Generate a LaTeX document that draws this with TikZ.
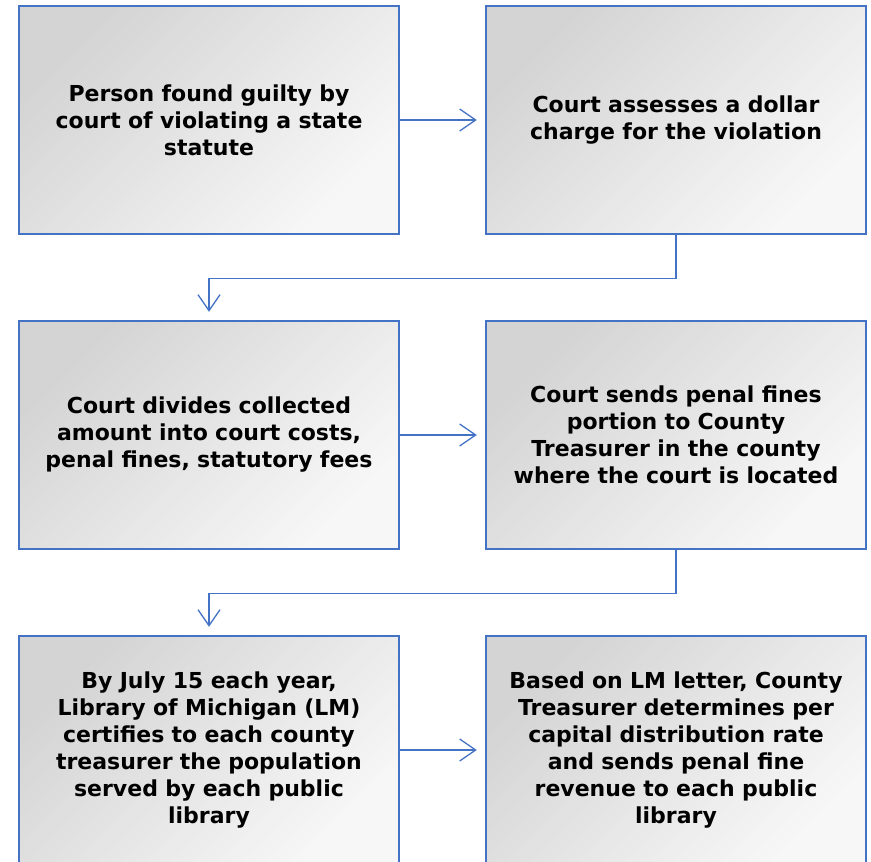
\documentclass[tikz,border=0pt]{standalone}
\usepackage{fontspec}
\setmainfont{DejaVu Sans}
\usetikzlibrary{arrows.meta}
\definecolor{boxblue}{HTML}{4472C4}
\begin{document}
\begin{tikzpicture}[x=1pt, y=-1pt,
  stepbox/.style={draw=boxblue, line width=2.4pt, minimum width=380pt, minimum height=228pt,
    top color=gray!34, bottom color=gray!6, shading angle=45, inner sep=0pt,
    text width=370pt, align=center, font=\bfseries\fontsize{22}{27}\selectfont},
  link/.style={draw=boxblue, line width=1.3pt, shorten >=8pt,
    -{Straight Barb[length=16pt, width=22pt, line width=1.3pt]}}]
  \useasboundingbox (0,0) rectangle (871,862);
  \clip (0,0) rectangle (871,862);
  % row 1
  \node[stepbox] (guilty) at (209,120) {Person found guilty by\\court of violating a state\\statute};
  \node[stepbox] (assess) at (676,120) {Court assesses a dollar\\charge for the violation};
  % row 2
  \node[stepbox] (divide) at (209,435) {Court divides collected\\amount into court costs,\\penal fines, statutory fees};
  \node[stepbox] (send) at (676,435) {Court sends penal fines\\portion to County\\Treasurer in the county\\where the court is located};
  % row 3
  \node[stepbox] (certify) at (209,750) {By July 15 each year,\\Library of Michigan (LM)\\certifies to each county\\treasurer the population\\served by each public\\library};
  \node[stepbox] (distrib) at (676,750) {Based on LM letter, County\\Treasurer determines per\\capital distribution rate\\and sends penal fine\\revenue to each public\\library};
  % connectors
  \draw[link] (guilty) -- (assess);
  \draw[link] (assess.south) -- ++(0,43) -| (divide.north);
  \draw[link] (divide) -- (send);
  \draw[link] (send.south) -- ++(0,43) -| (certify.north);
  \draw[link] (certify) -- (distrib);
\end{tikzpicture}
\end{document}
